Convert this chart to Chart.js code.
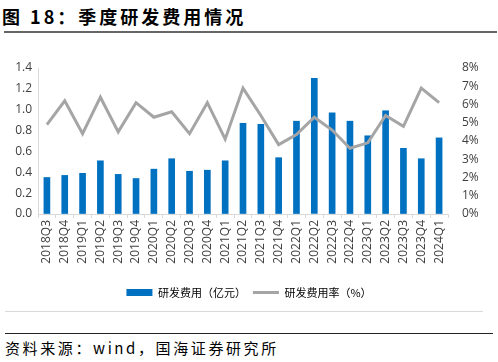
<!DOCTYPE html>
<html>
<head>
<meta charset="utf-8">
<script src="https://cdn.jsdelivr.net/npm/chart.js@4"></script>
<style>
    body { margin: 0; width: 498px; height: 362px; background: #fff; position: relative; overflow: hidden;
           font-family: "Noto Sans CJK SC", "Noto Sans", sans-serif; }
    #title { position: absolute; left: 2px; top: 3px; font-size: 18px; font-weight: bold; color: #000; letter-spacing: 3px; white-space: nowrap; }
    #rule1 { position: absolute; left: 4px; top: 31px; width: 493px; height: 2px; background: #666; }
    #rule2 { position: absolute; left: 5px; top: 311px; width: 478px; height: 1px; background: #d9d9d9; }
    #rule3 { position: absolute; left: 5px; top: 333px; width: 488px; height: 1px; background: #222; }
    #source { position: absolute; left: 5px; top: 337px; font-size: 15px; color: #000; letter-spacing: 2.6px; white-space: nowrap; }
    #wrap { position: absolute; left: 0; top: 50px; width: 498px; height: 258px; }
</style>
</head>
<body>
<div id="title">图 18：季度研发费用情况</div>
<div id="rule1"></div>
<div id="wrap"><canvas id="chart"></canvas></div>
<div id="rule2"></div>
<div id="rule3"></div>
<div id="source">资料来源：wind，国海证券研究所</div>
<script>
// 季度
const quarters = ['2018Q3','2018Q4','2019Q1','2019Q2','2019Q3','2019Q4','2020Q1','2020Q2','2020Q3','2020Q4',
    '2021Q1','2021Q2','2021Q3','2021Q4','2022Q1','2022Q2','2022Q3','2022Q4','2023Q1','2023Q2','2023Q3','2023Q4','2024Q1'];
// 研发费用（亿元）
const rdExpense = [0.35,0.37,0.39,0.51,0.38,0.34,0.43,0.53,0.41,0.42,
    0.51,0.87,0.86,0.54,0.89,1.30,0.97,0.89,0.75,0.99,0.63,0.53,0.73];
// 研发费用率（%）
const rdRate = [4.9,6.2,4.4,6.4,4.5,6.1,5.3,5.6,4.4,6.1,
    4.1,6.9,5.4,3.8,4.35,5.3,4.6,3.6,3.9,5.4,4.8,6.9,6.1];

const tickColor = '#404040';
const axisColor = '#d9d9d9';
const tickFont = { family: '"Open Sans", "Noto Sans", sans-serif', size: 12 };

new Chart(document.getElementById('chart').getContext('2d'), {
    data: {
        labels: quarters,
        datasets: [{
            type: 'bar',
            label: '研发费用（亿元）',
            data: rdExpense,
            backgroundColor: '#0070C0',
            borderWidth: 0,
            barThickness: 6,
            yAxisID: 'y',
            order: 2
        }, {
            type: 'line',
            label: '研发费用率（%）',
            data: rdRate,
            borderColor: '#A5A5A5',
            backgroundColor: '#A5A5A5',
            borderWidth: 3,
            pointRadius: 0,
            tension: 0,
            yAxisID: 'y1',
            order: 1
        }]
    },
    options: {
        responsive: true,
        maintainAspectRatio: false,
        animation: false,
        layout: { padding: { top: 18, bottom: 0, left: 0, right: 0 } },
        plugins: {
            tooltip: { enabled: false },
            legend: {
                position: 'bottom',
                labels: {
                    color: '#404040',
                    font: { family: '"Noto Sans CJK SC", sans-serif', size: 11 },
                    usePointStyle: true,
                    pointStyleWidth: 26,
                    boxHeight: 7,
                    padding: 7,
                    generateLabels: function(chart) {
                        return chart.data.datasets.map((ds, i) => ({
                            text: ds.label,
                            pointStyle: ds.type === 'bar' ? 'rect' : 'line',
                            fillStyle: ds.type === 'bar' ? '#0070C0' : '#A5A5A5',
                            strokeStyle: ds.type === 'bar' ? '#0070C0' : '#A5A5A5',
                            lineWidth: ds.type === 'bar' ? 0 : 3,
                            datasetIndex: i,
                            hidden: false
                        }));
                    }
                }
            }
        },
        scales: {
            x: {
                offset: true,
                grid: { display: true, drawOnChartArea: false, drawTicks: true, tickLength: 4, color: axisColor, offset: true },
                border: { display: true, color: axisColor },
                ticks: { color: tickColor, font: tickFont, minRotation: 90, maxRotation: 90, autoSkip: false, padding: 2 },
                afterFit: function(scale) { scale.height = 66; }
            },
            y: {
                position: 'left',
                min: 0,
                max: 1.4,
                grid: { display: true, drawOnChartArea: false, drawTicks: false },
                border: { display: true, color: axisColor },
                ticks: { stepSize: 0.2, color: tickColor, font: tickFont, padding: 6,
                         callback: v => v.toFixed(1) },
                afterFit: function(scale) { scale.width = 38; }
            },
            y1: {
                position: 'right',
                min: 0,
                max: 8,
                grid: { display: false },
                border: { display: false },
                ticks: { stepSize: 1, color: tickColor, font: tickFont, padding: 6,
                         callback: v => v + '%' },
                afterFit: function(scale) { scale.width = 50; }
            }
        }
    }
});
</script>
</body>
</html>
